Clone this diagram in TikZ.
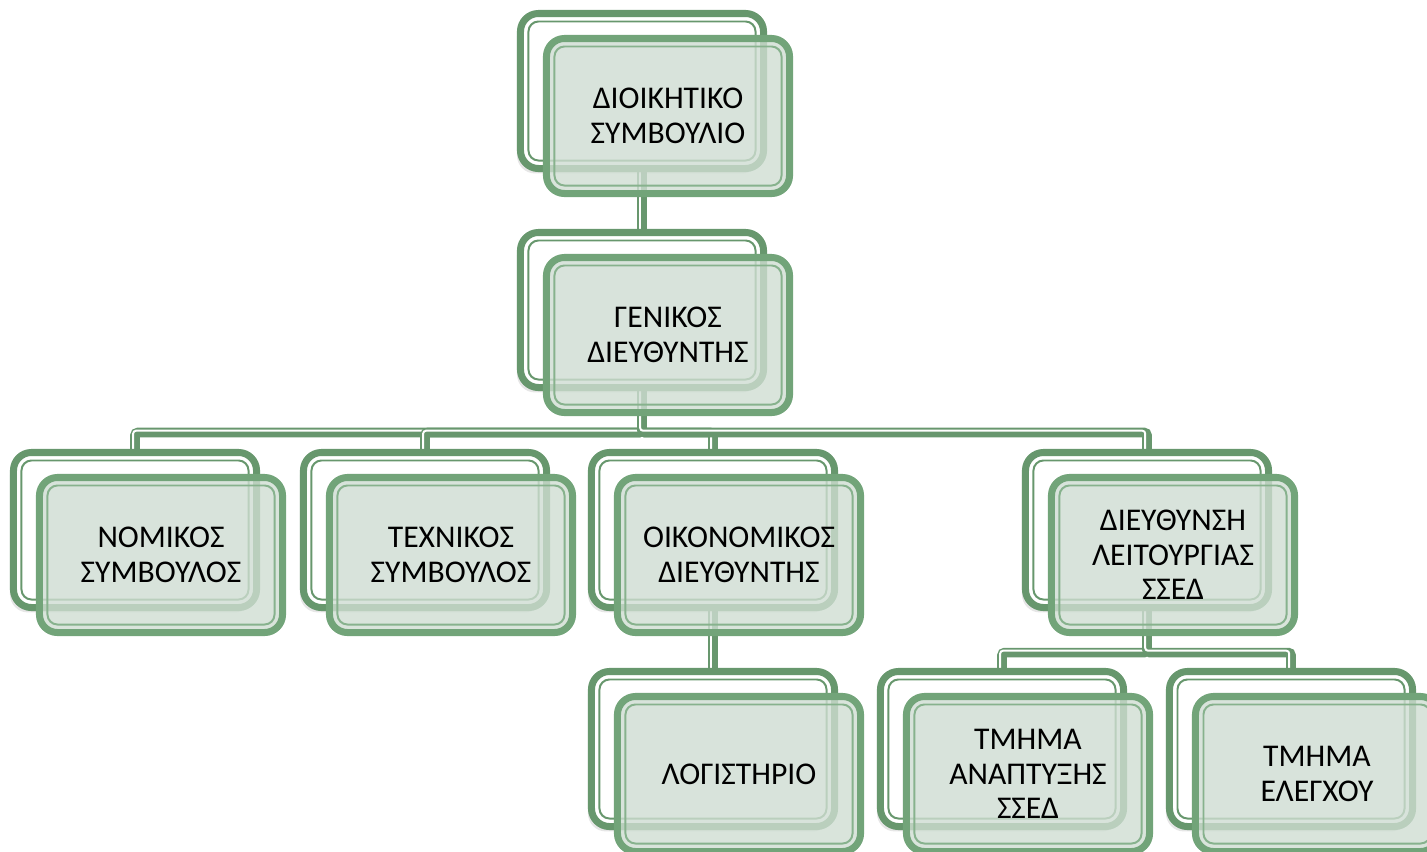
\documentclass[tikz,border=0pt]{standalone}
\usepackage{fontspec}
\setmainfont{Carlito}
\usetikzlibrary{backgrounds, shadows}
\definecolor{backgreen}{RGB}{103,151,109}
\definecolor{frontgreen}{RGB}{114,164,121}
\definecolor{linkgreen}{RGB}{104,151,110}
\definecolor{frontfill}{RGB}{207,221,210}
\tikzset{
    box/.style={line width=5pt, rounded corners=0.45cm, minimum width=6.075cm, minimum height=3.875cm, inner sep=0pt, outer sep=0pt},
    back/.style={style=box, draw=backgreen, fill=white, drop shadow={shadow xshift=-2.5pt, shadow yshift=-3.5pt, opacity=0.2}},
    front/.style={style=box, draw=frontgreen, fill=frontfill, fill opacity=0.8, text opacity=1, align=center, font=\fontsize{22.5}{24.5}\selectfont},
    inner line/.style={line width=1.4pt, rounded corners=0.25cm, minimum width=5.675cm, minimum height=3.475cm, inner sep=0pt}, % thin line inside a box
    back inner/.style={style=inner line, draw=backgreen},
    front inner/.style={style=inner line, draw=frontgreen!85!white},
    link/.style={draw=linkgreen, line width=6.8pt, rounded corners=2pt}, % connector
    link gap/.style={draw=white, line width=1.4pt, rounded corners=2pt, transform canvas={xshift=-1.3pt, yshift=1.3pt}} % white gap in a connector
}

\begin{document}
\begin{tikzpicture}[x=0.025cm, y=-0.025cm]
    \useasboundingbox (0,0) rectangle (1427,851);
    \clip (0,0) rectangle (1427,851);

    \foreach \name/\x/\y/\label in {
        board/642/91/{ΔΙΟΙΚΗΤΙΚΟ\\ΣΥΜΒΟΥΛΙΟ},
        gm/642/310/{ΓΕΝΙΚΟΣ\\ΔΙΕΥΘΥΝΤΗΣ},
        legal/135/530/{ΝΟΜΙΚΟΣ\\ΣΥΜΒΟΥΛΟΣ},
        tech/425/530/{ΤΕΧΝΙΚΟΣ\\ΣΥΜΒΟΥΛΟΣ},
        fin/713/530/{ΟΙΚΟΝΟΜΙΚΟΣ\\ΔΙΕΥΘΥΝΤΗΣ},
        ops/1147/530/{ΔΙΕΥΘΥΝΣΗ\\ΛΕΙΤΟΥΡΓΙΑΣ\\ΣΣΕΔ},
        acct/713/749/{ΛΟΓΙΣΤΗΡΙΟ},
        dev/1002/749/{ΤΜΗΜΑ\\ΑΝΑΠΤΥΞΗΣ\\ΣΣΕΔ},
        ctrl/1291/749/{ΤΜΗΜΑ\\ΕΛΕΓΧΟΥ}} {
        \node[back] (\name) at (\x,\y) {};
        \node[back inner] at (\name.center) {};
        \node[front] (\name-front) at ({\x+26},{\y+25}) {\label};
        \node[front inner] at (\name-front.center) {};
    }

    \begin{scope}[on background layer]
        \foreach \from/\to in {board/gm, gm/legal, gm/tech, gm/fin, gm/ops, fin/acct, ops/dev, ops/ctrl} {
            \draw[link] (\from.south) -- ++(0,45) -| (\to.north);
            \draw[link gap] (\from.south) -- ++(0,45) -| (\to.north);
        }
    \end{scope}
\end{tikzpicture}
\end{document}
